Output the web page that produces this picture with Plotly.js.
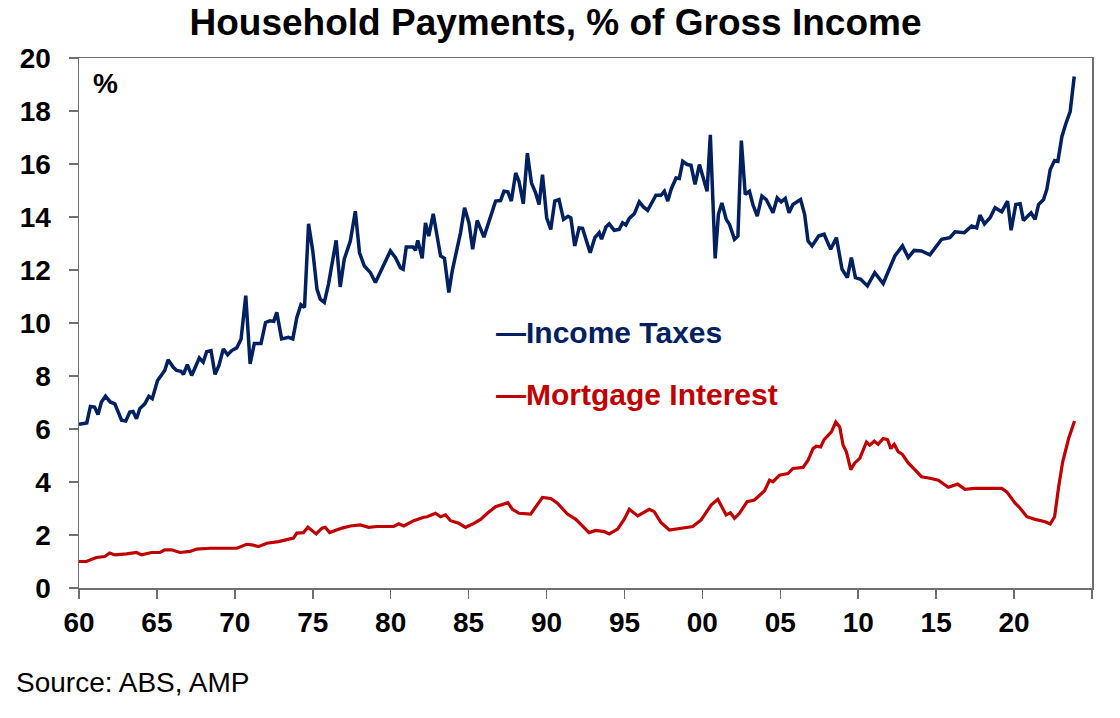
<!DOCTYPE html>
<html>
<head>
<meta charset="utf-8">
<script src="https://cdn.plot.ly/plotly-3.0.1.min.js"></script>
<style>
  html, body { margin: 0; padding: 0; background: #ffffff; }
  #chart { width: 1120px; height: 718px; }
</style>
</head>
<body>
<div id="chart"></div>
<script>
// Income taxes, % of gross household income
const taxYears = [
  1960.0, 1960.5, 1960.73, 1961.0, 1961.22, 1961.44, 1961.7, 1962.0, 1962.3, 1962.73,
  1963.0, 1963.26, 1963.47, 1963.69, 1963.9, 1964.22, 1964.48, 1964.7, 1965.04, 1965.34,
  1965.5, 1965.72, 1966.05, 1966.26, 1966.54, 1966.7, 1966.95, 1967.23, 1967.44, 1967.72,
  1967.97, 1968.19, 1968.47, 1968.73, 1968.98, 1969.26, 1969.54, 1969.8, 1970.12, 1970.4,
  1970.7, 1970.98, 1971.25, 1971.68, 1971.97, 1972.25, 1972.5, 1972.69, 1973.0, 1973.44,
  1973.72, 1973.98, 1974.24, 1974.47, 1974.73, 1975.0, 1975.27, 1975.48, 1975.74, 1976.01,
  1976.5, 1976.76, 1977.02, 1977.41, 1977.73, 1978.0, 1978.31, 1978.7, 1979.02, 1979.45,
  1979.98, 1980.3, 1980.62, 1980.8, 1981.0, 1981.44, 1981.59, 1981.74, 1982.02, 1982.23,
  1982.44, 1982.73, 1982.98, 1983.2, 1983.45, 1983.73, 1983.95, 1984.16, 1984.48, 1984.74,
  1985.02, 1985.26, 1985.55, 1985.98, 1986.73, 1987.05, 1987.27, 1987.52, 1987.74, 1988.02,
  1988.23, 1988.51, 1988.77, 1989.03, 1989.3, 1989.52, 1989.74, 1990.01, 1990.27, 1990.53,
  1990.8, 1991.09, 1991.38, 1991.56, 1991.81, 1992.09, 1992.31, 1992.8, 1993.1, 1993.38,
  1993.53, 1993.81, 1994.02, 1994.34, 1994.66, 1994.88, 1995.09, 1995.31, 1995.63, 1995.95,
  1996.23, 1996.49, 1996.81, 1997.02, 1997.34, 1997.56, 1997.78, 1997.99, 1998.31, 1998.52,
  1998.74, 1999.02, 1999.27, 1999.53, 1999.81, 2000.09, 2000.3, 2000.51, 2000.82, 2001.03,
  2001.25, 2001.53, 2001.74, 2002.06, 2002.28, 2002.5, 2002.75, 2003.02, 2003.24, 2003.52,
  2003.82, 2004.1, 2004.53, 2004.8, 2005.06, 2005.32, 2005.56, 2005.81, 2006.3, 2006.56,
  2006.78, 2007.04, 2007.46, 2007.81, 2008.23, 2008.6, 2008.96, 2009.3, 2009.56, 2009.82,
  2010.16, 2010.59, 2011.06, 2011.6, 2011.92, 2012.35, 2012.84, 2013.21, 2013.59, 2014.06,
  2014.6, 2014.92, 2015.35, 2015.88, 2016.21, 2016.81, 2017.28, 2017.6, 2017.81, 2018.1,
  2018.46, 2018.78, 2019.21, 2019.58, 2019.81, 2020.11, 2020.39, 2020.6, 2021.09, 2021.35,
  2021.57, 2021.89, 2022.1, 2022.32, 2022.6, 2022.81, 2023.07, 2023.33, 2023.6, 2023.86
];
const taxValues = [
  6.18, 6.23, 6.85, 6.83, 6.55, 7.02, 7.24, 7.02, 6.95, 6.33,
  6.30, 6.64, 6.66, 6.39, 6.77, 6.95, 7.23, 7.14, 7.83, 8.06,
  8.21, 8.61, 8.33, 8.21, 8.18, 8.06, 8.43, 8.02, 8.33, 8.68,
  8.52, 8.92, 8.96, 8.06, 8.40, 9.02, 8.80, 8.96, 9.06, 9.40,
  11.03, 8.46, 9.23, 9.23, 10.02, 10.08, 10.06, 10.40, 9.40, 9.46,
  9.40, 10.21, 10.69, 10.59, 13.74, 12.72, 11.28, 10.90, 10.78, 11.47,
  13.12, 11.36, 12.41, 13.09, 14.22, 12.65, 12.15, 11.90, 11.53, 12.09,
  12.72, 12.47, 12.09, 12.03, 12.87, 12.87, 12.74, 13.12, 12.44, 13.78,
  13.28, 14.12, 13.35, 12.53, 12.44, 11.15, 11.97, 12.53, 13.40, 14.35,
  13.78, 12.78, 13.87, 13.24, 14.60, 14.62, 14.97, 14.95, 14.60, 15.66,
  15.35, 14.50, 16.41, 15.29, 14.91, 14.47, 15.60, 13.97, 13.53, 14.60,
  14.66, 13.91, 14.03, 13.97, 12.91, 13.59, 13.57, 12.65, 13.22, 13.41,
  13.16, 13.62, 13.74, 13.50, 13.53, 13.78, 13.70, 13.95, 14.12, 14.57,
  14.37, 14.25, 14.60, 14.82, 14.82, 14.97, 14.60, 15.04, 15.47, 15.45,
  16.10, 15.98, 15.95, 15.23, 15.98, 15.35, 14.97, 17.10, 12.44, 14.10,
  14.53, 13.91, 13.72, 13.16, 13.28, 16.88, 14.85, 14.97, 14.47, 14.03,
  14.79, 14.66, 14.16, 14.72, 14.57, 14.70, 14.16, 14.47, 14.66, 14.10,
  13.09, 12.91, 13.28, 13.35, 12.78, 13.22, 12.03, 11.71, 12.47, 11.71,
  11.65, 11.40, 11.90, 11.49, 11.97, 12.53, 12.91, 12.47, 12.74, 12.72,
  12.57, 12.84, 13.16, 13.22, 13.44, 13.41, 13.66, 13.59, 14.07, 13.74,
  13.97, 14.35, 14.20, 14.60, 13.50, 14.47, 14.50, 13.87, 14.16, 13.91,
  14.47, 14.66, 15.04, 15.79, 16.13, 16.10, 17.04, 17.54, 17.98, 19.30
];

// Mortgage interest, % of gross household income
const mortYears = [
  1960.0, 1960.47, 1961.12, 1961.65, 1961.97, 1962.3, 1963.05, 1963.69, 1964.01, 1964.66,
  1965.19, 1965.51, 1965.94, 1966.48, 1967.12, 1967.55, 1968.4, 1969.05, 1970.12, 1970.77,
  1971.09, 1971.51, 1972.05, 1972.8, 1973.34, 1973.76, 1973.98, 1974.4, 1974.69, 1974.95,
  1975.22, 1975.59, 1975.8, 1976.08, 1976.44, 1976.87, 1977.41, 1978.05, 1978.59, 1979.12,
  1980.19, 1980.52, 1980.84, 1981.48, 1982.12, 1982.34, 1982.87, 1983.2, 1983.52, 1983.84,
  1984.37, 1984.8, 1985.34, 1985.77, 1986.2, 1986.73, 1987.52, 1987.81, 1988.23, 1988.98,
  1989.74, 1990.27, 1990.7, 1991.34, 1991.88, 1992.31, 1992.73, 1993.16, 1993.7, 1994.02,
  1994.56, 1994.98, 1995.31, 1995.85, 1996.59, 1996.91, 1997.34, 1997.88, 1998.63, 1999.38,
  1999.92, 2000.56, 2000.99, 2001.52, 2001.8, 2002.06, 2002.38, 2002.87, 2003.34, 2003.77,
  2003.99, 2004.31, 2004.53, 2004.95, 2005.49, 2005.81, 2006.46, 2006.78, 2007.1, 2007.31,
  2007.59, 2007.81, 2008.28, 2008.56, 2008.81, 2009.03, 2009.24, 2009.52, 2009.78, 2010.1,
  2010.53, 2010.74, 2011.03, 2011.28, 2011.6, 2011.88, 2012.09, 2012.31, 2012.57, 2012.82,
  2013.21, 2013.63, 2014.06, 2014.6, 2015.14, 2015.78, 2016.38, 2016.85, 2017.49, 2018.35,
  2019.21, 2019.53, 2020.07, 2020.39, 2020.82, 2021.35, 2022.0, 2022.32, 2022.6, 2022.86,
  2023.12, 2023.5, 2023.88
];
const mortValues = [
  1.00, 1.00, 1.15, 1.19, 1.32, 1.25, 1.29, 1.34, 1.25, 1.34,
  1.34, 1.44, 1.44, 1.34, 1.38, 1.47, 1.50, 1.50, 1.50, 1.65,
  1.63, 1.56, 1.69, 1.75, 1.84, 1.88, 2.07, 2.09, 2.29, 2.17,
  2.04, 2.26, 2.29, 2.09, 2.17, 2.26, 2.34, 2.38, 2.29, 2.32,
  2.32, 2.42, 2.34, 2.54, 2.67, 2.69, 2.82, 2.69, 2.76, 2.54,
  2.44, 2.29, 2.44, 2.59, 2.82, 3.07, 3.22, 2.97, 2.82, 2.79,
  3.42, 3.38, 3.20, 2.79, 2.59, 2.32, 2.09, 2.17, 2.13, 2.04,
  2.22, 2.59, 2.97, 2.72, 2.97, 2.88, 2.47, 2.19, 2.26, 2.32,
  2.57, 3.13, 3.35, 2.76, 2.84, 2.63, 2.82, 3.26, 3.32, 3.55,
  3.67, 4.07, 4.01, 4.26, 4.32, 4.51, 4.55, 4.82, 5.26, 5.35,
  5.32, 5.60, 5.89, 6.26, 6.08, 5.39, 5.14, 4.47, 4.72, 4.89,
  5.51, 5.39, 5.54, 5.42, 5.64, 5.60, 5.26, 5.42, 5.14, 5.05,
  4.72, 4.47, 4.20, 4.14, 4.07, 3.80, 3.92, 3.72, 3.76, 3.76,
  3.76, 3.63, 3.20, 3.01, 2.69, 2.59, 2.50, 2.42, 2.69, 3.82,
  4.76, 5.64, 6.30
];

const tickYears = [1960, 1965, 1970, 1975, 1980, 1985, 1990, 1995, 2000, 2005, 2010, 2015, 2020, 2025];
const tickLabels = ['60', '65', '70', '75', '80', '85', '90', '95', '00', '05', '10', '15', '20', ''];

const navy = '#002060';
const red = '#c00000';
const axisGrey = '#6f6f6f';
const font = 'Liberation Sans, Arial, sans-serif';

const traces = [
  {
    x: taxYears, y: taxValues, type: 'scatter', mode: 'lines',
    name: 'Income Taxes',
    line: {color: navy, width: 3.5}
  },
  {
    x: mortYears, y: mortValues, type: 'scatter', mode: 'lines',
    name: 'Mortgage Interest',
    line: {color: red, width: 3.2}
  }
];

const layout = {
  width: 1120,
  height: 718,
  paper_bgcolor: '#ffffff',
  plot_bgcolor: '#ffffff',
  showlegend: false,
  margin: {l: 79, r: 28, t: 58, b: 130},
  font: {family: font, color: '#000000'},
  title: {
    text: '<b>Household Payments, % of Gross Income</b>',
    font: {family: font, size: 37, color: '#000000'},
    x: 0.496, xref: 'container', xanchor: 'center',
    y: 0.969, yref: 'container', yanchor: 'middle'
  },
  xaxis: {
    range: [1960, 2025],
    tickmode: 'array',
    tickvals: tickYears,
    ticktext: tickLabels,
    ticks: 'outside', ticklen: 9, tickwidth: 1.5, tickcolor: axisGrey,
    showline: true, linecolor: axisGrey, linewidth: 1.5, mirror: true,
    showgrid: false, zeroline: false,
    tickfont: {family: font, size: 28, color: '#000000', weight: 'bold'},
    ticklabelstandoff: 0,
    fixedrange: true
  },
  yaxis: {
    range: [0, 20],
    tickmode: 'linear', tick0: 0, dtick: 2,
    ticks: 'outside', ticklen: 9, tickwidth: 1.5, tickcolor: axisGrey,
    showline: true, linecolor: axisGrey, linewidth: 1.5, mirror: true,
    showgrid: false, zeroline: false,
    tickfont: {family: font, size: 28, color: '#000000', weight: 'bold'},
    ticklabelstandoff: 12,
    fixedrange: true
  },
  annotations: [
    {
      text: '<b>%</b>', xref: 'paper', yref: 'paper',
      x: 0.0118, y: 0.951, xanchor: 'left', yanchor: 'middle',
      showarrow: false, font: {family: font, size: 28, color: '#000000'}
    },
    {
      text: '<b>\u2014Income Taxes</b>', xref: 'x', yref: 'y',
      x: 1986.6, y: 9.65, xanchor: 'left', yanchor: 'middle',
      showarrow: false, font: {family: font, size: 30, color: navy}
    },
    {
      text: '<b>\u2014Mortgage Interest</b>', xref: 'x', yref: 'y',
      x: 1986.6, y: 7.3, xanchor: 'left', yanchor: 'middle',
      showarrow: false, font: {family: font, size: 30, color: red}
    },
    {
      text: 'Source: ABS, AMP', xref: 'paper', yref: 'paper',
      x: -0.0642, y: -0.179, xanchor: 'left', yanchor: 'middle',
      showarrow: false, font: {family: font, size: 28, color: '#000000'}
    }
  ]
};

Plotly.newPlot('chart', traces, layout, {displayModeBar: false, staticPlot: true});
</script>
</body>
</html>
